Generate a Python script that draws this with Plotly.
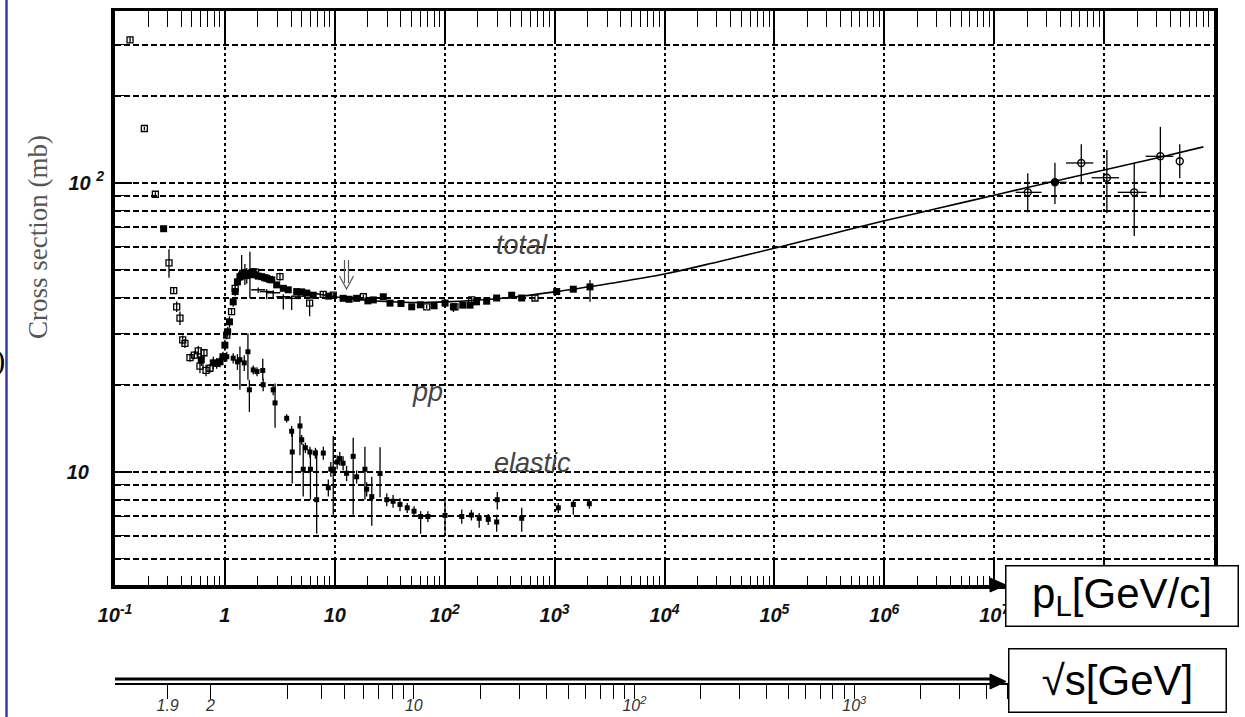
import math
import plotly.graph_objects as go

# ---------------- data ----------------
# total cross section, fit curve (p_L in GeV/c, sigma in mb)
p_fit = [5, 10, 20, 50, 100, 316, 1e3, 3.16e3, 1e4, 3.16e4, 1e5, 3.16e5,
         1e6, 3.16e6, 1e7, 3.16e7, 1e8, 3.16e8, 8e8]
sig_fit = [42.3, 40.3, 39.2, 38.5, 38.7, 39.75, 41.9, 44.8, 48.3, 53.4, 59.3,
           66.2, 73.8, 81.7, 90.5, 100.2, 110.6, 122.2, 133.0]

# total cross section, open-square measurements
p_tot_open = [0.137, 0.185, 0.233, 0.31, 0.342, 0.364, 0.390, 0.413, 0.433,
              0.481, 0.527, 0.573, 0.593, 0.645, 0.673, 0.731, 1.04, 1.15,
              1.24, 1.45, 1.9, 3.17, 5.9, 7.85, 9.68, 18.2, 68.6, 124, 176, 663]
sig_tot_open = [312, 154, 91.2, 52.8, 42.3, 37.2, 34.0, 28.6, 27.8, 24.8, 25.3,
                26.2, 23.2, 25.8, 22.4, 22.8, 29.7, 35.8, 43.1, 48.5, 49.0,
                47.3, 38.3, 41.1, 40.8, 40.3, 37.2, 37.2, 39.3, 39.9]
eup_tot_open = [8, 2, 1.5, 6.0, 1.0, 1.6, 1.8, 1.0, 1.0, 0.8, 0.8, 1.0, 1.3,
                0.8, 1.0, 0.8, 1.0, 1.0, 1.2, 1.5, 1.5, 1.5, 0.8, 0.8, 0.8,
                0.6, 0.6, 0.6, 0.6, 0.6]
edn_tot_open = [8, 2, 1.5, 5.9, 1.0, 1.5, 1.8, 1.0, 1.0, 0.8, 0.8, 1.0, 1.3,
                0.8, 1.0, 0.8, 1.0, 1.0, 1.2, 1.5, 1.5, 1.5, 3.8, 0.8, 0.8,
                0.6, 0.6, 0.6, 0.6, 0.6]

# total cross section, filled-square measurements
p_tot_fill = [0.277, 0.61, 0.784, 0.841, 0.902, 0.96, 1.0, 1.06, 1.10, 1.19,
              1.24, 1.30, 1.37, 1.42, 1.46, 1.52, 1.58, 1.64, 1.69, 1.75, 1.81,
              1.90, 2.01, 2.16, 2.30, 2.40, 2.55, 2.67, 2.96, 3.40, 3.77, 4.50,
              5.0, 5.55, 6.37, 8.8, 11.9, 13.5, 15.8, 20.0, 22.4, 27.6, 31.8,
              40.0, 50.1, 60.0, 80.0, 100.7, 120, 146, 170, 195, 241, 297, 407,
              502, 1045, 1480, 2099]
sig_tot_fill = [69.3, 24.4, 23.8, 23.7, 24.0, 25.0, 27.4, 30.5, 33.0, 38.7,
                42.0, 45.4, 47.3, 47.8, 48.0, 48.3, 47.7, 48.0, 48.6, 48.8, 49.2,
                48.0, 47.5, 47.3, 46.9, 46.7, 46.3, 46.1, 44.3, 43.1, 42.6, 42.0,
                41.9, 41.5, 40.8, 40.5, 39.8, 39.5, 39.8, 39.0, 39.3, 40.3, 38.3,
                38.2, 37.2, 37.8, 37.5, 38.3, 37.2, 37.7, 37.7, 38.7, 38.9, 39.9,
                40.8, 39.9, 42.0, 42.8, 43.6]
eup_tot_fill = [1.5, 1.2, 1.2, 1.0, 1.0, 1.0, 1.2, 1.2, 1.5, 1.5, 1.5, 1.5,
                1.5, 8.4, 2.0, 4.0, 3.0, 1.5, 9.1, 1.5, 1.5, 1.2, 1.0, 1.0, 1.0,
                1.0, 1.0, 1.0, 1.0, 0.8, 0.8, 0.8, 0.8, 0.6, 0.6, 0.6, 0.6, 0.6,
                0.6, 0.6, 0.6, 0.6, 0.6, 0.6, 0.6, 0.6, 0.6, 0.6, 0.8, 0.6, 0.6,
                0.6, 0.6, 0.6, 0.6, 0.6, 0.8, 0.8, 2.5]
edn_tot_fill = [1.5, 1.2, 1.2, 1.0, 1.0, 1.0, 1.2, 1.2, 1.5, 1.5, 1.5, 1.5,
                1.5, 2.0, 2.0, 4.0, 3.0, 1.5, 8.7, 1.5, 1.5, 1.2, 1.0, 1.0, 1.0,
                1.0, 1.0, 1.0, 1.0, 0.8, 0.8, 0.8, 0.8, 0.6, 0.6, 0.6, 0.6, 0.6,
                0.6, 0.6, 0.6, 0.6, 0.6, 0.6, 0.6, 0.6, 0.6, 0.6, 1.5, 0.6, 0.6,
                0.6, 0.6, 0.6, 0.6, 0.6, 0.8, 0.8, 4.9]

# total cross section, second experiment (horizontal-dash markers)
p_tot_dash = [2.01, 2.40, 2.75, 3.40, 4.05, 4.7]
sig_tot_dash = [42.6, 42.0, 41.6, 40.3, 39.8, 40.5]
eup_tot_dash = [0.8, 0.8, 0.8, 0.8, 0.8, 0.8]
edn_tot_dash = [1.0, 2.5, 1.5, 3.9, 3.5, 1.0]

# high-energy total cross section (cosmic rays / colliders)
p_he = [2.02e7, 3.57e7, 6.2e7, 1.06e8, 1.88e8, 3.25e8, 4.88e8]
sig_he = [92.6, 100.3, 117.0, 104.0, 92.6, 123.4, 118.6]
eup_he = [15.2, 17.0, 18.8, 25.8, 24.4, 32.6, 17.2]
edn_he = [13.6, 15.9, 18.3, 25.6, 27.2, 34.4, 15.0]
pup_he = [0.68e7, 1.0e7, 1.78e7, 3.1e7, 0.56e8, 1.02e8, 0]
pdn_he = [0.45e7, 0.77e7, 1.7e7, 2.9e7, 0.55e8, 0.86e8, 0]
sym_he = ["circle-open", "circle", "circle-open", "circle-open",
          "circle-open", "circle-open", "circle-open"]

# elastic cross section
p_el = [1.04, 1.19, 1.30, 1.37, 1.50, 1.62, 1.67, 1.81, 1.96, 2.21, 2.23, 2.75,
        2.86, 3.65, 4.05, 4.10, 4.82, 5.00, 5.16, 5.40, 5.94, 6.00, 6.66, 6.84,
        7.86, 8.73, 9.2, 9.68, 10.5, 11.1, 11.9, 12.8, 14.7, 15.8, 18.8, 19.5,
        21.7, 25.8, 29.7, 33.9, 39.2, 45.6, 52.6, 60.4, 70.3, 100.7, 143, 175,
        206, 249, 297, 301, 502, 1081, 1480, 2071]
sig_el = [25.0, 24.7, 24.0, 24.4, 23.8, 26.0, 19.2, 22.5, 22.2, 22.4, 20.0,
          19.2, 17.3, 15.3, 13.8, 11.7, 14.4, 12.9, 10.2, 12.1, 11.7, 10.2,
          11.6, 8.0, 11.6, 8.8, 10.2, 10.2, 10.8, 11.1, 10.7, 9.87, 11.3, 9.6,
          10.2, 8.7, 8.2, 9.86, 8.0, 7.9, 7.7, 7.5, 7.3, 7.0, 7.0, 7.06, 7.0,
          7.08, 6.9, 6.84, 6.7, 8.0, 6.9, 7.5, 7.7, 7.75]
eup_el = [1.0, 1.0, 1.5, 2.7, 1.5, 4.1, 1.6, 0.8, 0.8, 2.2, 1.0, 0.8, 2.9,
          0.5, 0.6, 2.2, 1.2, 0.5, 2.3, 0.5, 0.5, 1.7, 0.5, 3.9, 0.6, 0.6,
          0.6, 3.1, 0.6, 0.6, 0.6, 0.6, 1.8, 0.5, 2.0, 0.5, 1.4, 2.3, 0.4,
          0.4, 0.4, 0.3, 0.3, 0.3, 0.3, 0.9, 0.4, 0.3, 0.3, 0.3, 0.4, 0.5,
          0.6, 0.3, 0.3, 0.3]
edn_el = [1.0, 1.0, 1.5, 5.2, 1.5, 5.2, 3.1, 0.8, 0.8, 1.6, 1.0, 0.8, 3.1,
          0.5, 0.6, 2.6, 3.0, 0.5, 2.0, 0.5, 0.5, 2.2, 0.5, 1.9, 0.6, 0.6,
          0.6, 3.1, 0.6, 0.6, 0.6, 0.6, 4.2, 0.5, 2.2, 0.5, 1.7, 1.7, 0.4,
          0.4, 0.4, 0.3, 0.3, 0.9, 0.3, 1.0, 0.4, 0.3, 0.5, 0.3, 0.5, 0.6,
          0.7, 0.3, 0.6, 0.3]

# axis ticks
p_ticks = [1e-1, 1, 10, 1e2, 1e3, 1e4, 1e5, 1e6, 1e7, 1e8, 1e9]
p_labels = ["10<sup>-1</sup>", "1", "10", "10<sup>2</sup>", "10<sup>3</sup>",
            "10<sup>4</sup>", "10<sup>5</sup>", "10<sup>6</sup>",
            "10<sup>7</sup>", "10<sup>8</sup>", "10<sup>9</sup>"]
sig_ticks = [10, 100]
sig_labels = ["10\u00a0\u00a0\u2009", "10 <sup>2</sup>"]

sqrts_ticks = ([1.9, 2] + list(range(3, 10)) + list(range(10, 100, 10))
               + list(range(100, 1000, 100)) + list(range(1000, 10000, 1000))
               + [10000, 20000, 30000, 40000])
sqrts_label_map = {1.9: "1.9", 2: "2", 10: "10", 100: "10<sup>2</sup>",
                   1000: "10<sup>3</sup>", 10000: "10<sup>4</sup>"}

M_P = 0.938272  # proton mass, GeV


def plab_from_sqrts(w):
    """Fixed-target beam momentum for a pp collision at c.m. energy w."""
    e = (w * w - 2 * M_P ** 2) / (2 * M_P)
    return math.sqrt(e * e - M_P ** 2)


sqrts_pos = [plab_from_sqrts(w) for w in sqrts_ticks]
sqrts_text = [sqrts_label_map.get(w, "") for w in sqrts_ticks]

# ---------------- page geometry ----------------
W, H = 1245, 717
ML, MR, MT, MB = 115, 31, 11, 17
PW, PH = W - ML - MR, H - MT - MB


def fx(x):
    return (x - ML) / PW


def fy(y):
    return (H - MB - y) / PH


Y_BOTTOM = 585  # bottom of the data frame
BLACK = "black"
TICKFONT = dict(family="Liberation Sans, Arial, sans-serif", size=20,
                color="#111", weight="bold", style="italic")

fig = go.Figure()

# fit curve lives on the sqrt(s) axis (same log range as p_L) so that axis is drawn
fig.add_trace(go.Scatter(
    x=p_fit, y=sig_fit, mode="lines",
    line=dict(color=BLACK, width=1.6, shape="spline", smoothing=1.0),
    xaxis="x2", yaxis="y", hoverinfo="skip", showlegend=False))

bar = dict(type="data", symmetric=False, color=BLACK, thickness=1.3, width=0)

fig.add_trace(go.Scatter(
    x=p_el, y=sig_el, mode="markers",
    marker=dict(symbol="square", size=5, color=BLACK),
    error_y=dict(bar, array=eup_el, arrayminus=edn_el), showlegend=False))

fig.add_trace(go.Scatter(
    x=p_tot_fill, y=sig_tot_fill, mode="markers",
    marker=dict(symbol="square", size=7, color=BLACK),
    error_y=dict(bar, array=eup_tot_fill, arrayminus=edn_tot_fill),
    showlegend=False))

fig.add_trace(go.Scatter(
    x=p_tot_open, y=sig_tot_open, mode="markers",
    marker=dict(symbol="square-open", size=6, color=BLACK,
                line=dict(width=1.3, color=BLACK)),
    error_y=dict(bar, array=eup_tot_open, arrayminus=edn_tot_open),
    showlegend=False))

fig.add_trace(go.Scatter(
    x=p_tot_dash, y=sig_tot_dash, mode="markers",
    marker=dict(symbol="line-ew-open", size=10, color=BLACK,
                line=dict(width=1.5, color=BLACK)),
    error_y=dict(bar, array=eup_tot_dash, arrayminus=edn_tot_dash),
    showlegend=False))

# high-energy points on the top twin axis (same log range as p_L)
fig.add_trace(go.Scatter(
    x=p_he, y=sig_he, mode="markers", xaxis="x3", yaxis="y",
    marker=dict(symbol=sym_he, size=7, color=BLACK,
                line=dict(width=1.4, color=BLACK)),
    error_y=dict(bar, array=eup_he, arrayminus=edn_he),
    error_x=dict(bar, array=pup_he, arrayminus=pdn_he),
    showlegend=False))

log_range = [-1, 9]
fig.update_layout(
    width=W, height=H,
    margin=dict(l=ML, r=MR, t=MT, b=MB, pad=0),
    paper_bgcolor="white", plot_bgcolor="white",
    showlegend=False,
    xaxis=dict(
        type="log", range=log_range, domain=[0, 1], anchor="y", side="bottom",
        showline=True, linewidth=4, linecolor=BLACK, mirror=False,
        ticks="inside", ticklen=28, tickwidth=1.5, tickcolor=BLACK,
        tickmode="array", tickvals=p_ticks, ticktext=p_labels,
        tickfont=TICKFONT, ticklabelstandoff=9,
        showgrid=True, gridcolor=BLACK, gridwidth=1.6, griddash="3px,3px",
        minor=dict(ticks="inside", ticklen=9, tickwidth=1.2, tickcolor=BLACK,
                   dtick="D1", showgrid=False),
        zeroline=False, automargin=False),
    xaxis3=dict(
        type="log", range=log_range, overlaying="x", anchor="y", side="top",
        showline=True, linewidth=3, linecolor=BLACK,
        ticks="inside", ticklen=33, tickwidth=1.5, tickcolor=BLACK,
        tickmode="array", tickvals=p_ticks, showticklabels=False,
        showgrid=False,
        minor=dict(ticks="inside", ticklen=16, tickwidth=1.2, tickcolor=BLACK,
                   dtick="D1", showgrid=False),
        zeroline=False, automargin=False),
    xaxis2=dict(
        type="log", range=log_range, overlaying="x", anchor="free",
        position=fy(684), side="bottom",
        showline=True, linewidth=1.5, linecolor=BLACK,
        ticks="outside", ticklen=14, tickwidth=1.3, tickcolor=BLACK,
        tickmode="array", tickvals=sqrts_pos, ticktext=sqrts_text,
        tickfont=dict(family="Liberation Sans, Arial, sans-serif", size=16,
                      color="#333", style="italic"),
        ticklabelstandoff=-7,
        showgrid=False, zeroline=False, automargin=False),
    yaxis=dict(
        type="log", range=[0.608, 2.594], domain=[fy(Y_BOTTOM), 1],
        anchor="x", showline=True, linewidth=4, linecolor=BLACK, mirror=True,
        ticks="inside", ticklen=17, tickwidth=1.5, tickcolor=BLACK,
        tickmode="array", tickvals=sig_ticks, ticktext=sig_labels,
        tickfont=TICKFONT, ticklabelstandoff=3,
        showgrid=True, gridcolor=BLACK, gridwidth=1.5, griddash="6px,3px",
        minor=dict(ticks="inside", ticklen=10, tickwidth=1.2, tickcolor=BLACK,
                   dtick="D1", showgrid=True, gridcolor=BLACK, gridwidth=1.5,
                   griddash="6px,3px"),
        zeroline=False, automargin=False),
)

shapes = []
# slide border on the left
shapes.append(dict(type="line", xref="paper", yref="paper",
                   x0=fx(6.5), x1=fx(6.5), y0=fy(0), y1=fy(H),
                   line=dict(color="#3a3aa0", width=2.5)))
# arrowhead at the end of the p_L axis
shapes.append(dict(type="path", xref="paper", yref="paper",
                   path=f"M {fx(990)},{fy(Y_BOTTOM - 7)} L {fx(1006)},{fy(Y_BOTTOM)} "
                        f"L {fx(990)},{fy(Y_BOTTOM + 7)} Z",
                   fillcolor=BLACK, line=dict(color=BLACK, width=1)))
# upper rail of the double sqrt(s) axis line and its arrowhead
shapes.append(dict(type="line", xref="paper", yref="paper",
                   x0=fx(115), x1=fx(998), y0=fy(679), y1=fy(679),
                   line=dict(color=BLACK, width=3)))
shapes.append(dict(type="path", xref="paper", yref="paper",
                   path=f"M {fx(990)},{fy(674)} L {fx(1006)},{fy(681.5)} "
                        f"L {fx(990)},{fy(689)} Z",
                   fillcolor=BLACK, line=dict(color=BLACK, width=1)))
# double arrow marker above the total cross section
for xs in (344.5, 348.5):
    shapes.append(dict(type="line", xref="paper", yref="paper",
                       x0=fx(xs), x1=fx(xs), y0=fy(260), y1=fy(283),
                       line=dict(color="#555", width=1.2)))
shapes.append(dict(type="path", xref="paper", yref="paper",
                   path=f"M {fx(339.5)},{fy(276)} L {fx(346.5)},{fy(289)} "
                        f"L {fx(353.5)},{fy(276)}",
                   line=dict(color="#555", width=1.2)))
fig.update_layout(shapes=shapes)

label_font = dict(family="Liberation Sans, Arial, sans-serif", size=27,
                  color="#444", style="italic")
annotations = [
    dict(text="Cross section (mb)", x=fx(38), y=fy(237), textangle=-90,
         font=dict(family="Liberation Serif, Times New Roman, serif", size=27,
                   color="#555")),
    dict(text="(mb)", x=fx(7), y=fy(360), xanchor="right",
         font=dict(family="Liberation Serif, Times New Roman, serif", size=30,
                   color=BLACK)),
    dict(text="total", x=fx(522), y=fy(245), font=label_font),
    dict(text="pp", x=fx(427), y=fy(392), font=label_font),
    dict(text="elastic", x=fx(532), y=fy(463), font=label_font),
    dict(text="p<sub>L</sub>[GeV/c]", x=fx(1005), y=fy(565),
         xanchor="left", yanchor="top", width=231, height=59, align="center",
         valign="middle", bgcolor="white", bordercolor=BLACK, borderwidth=1.5,
         borderpad=0,
         font=dict(family="Liberation Sans, Arial, sans-serif", size=42,
                   color=BLACK)),
    dict(text="\u221As[GeV]", x=fx(1008), y=fy(648),
         xanchor="left", yanchor="top", width=216, height=62, align="center",
         valign="middle", bgcolor="white", bordercolor=BLACK, borderwidth=1.5,
         borderpad=0,
         font=dict(family="Liberation Sans, Arial, sans-serif", size=42,
                   color=BLACK)),
]
for a in annotations:
    a.setdefault("xref", "paper")
    a.setdefault("yref", "paper")
    a.setdefault("showarrow", False)
    a.setdefault("xanchor", "center")
    a.setdefault("yanchor", "middle")
fig.update_layout(annotations=annotations)

fig.write_html("out.html")
